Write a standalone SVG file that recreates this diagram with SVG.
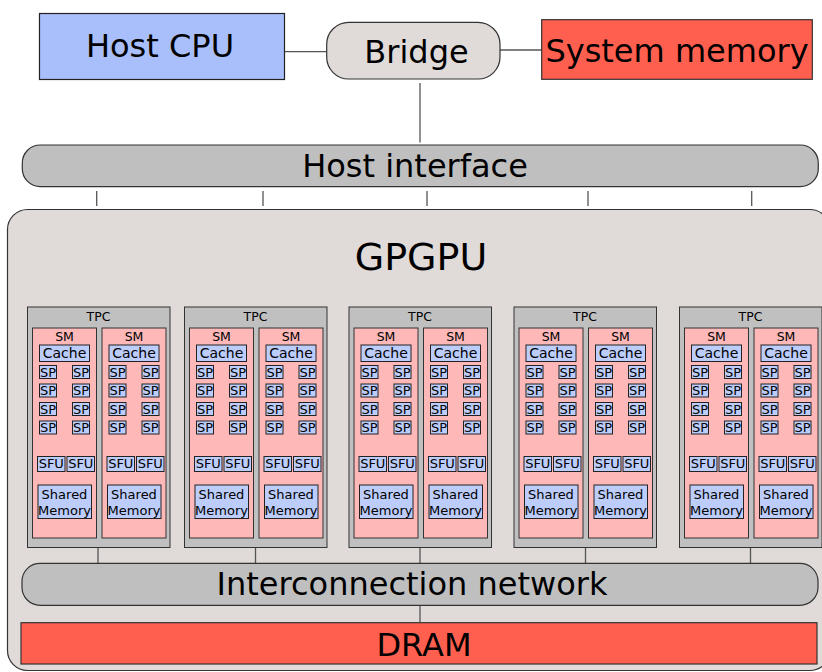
<svg xmlns="http://www.w3.org/2000/svg" width="822" height="672" viewBox="0 0 822 672">
<style>
text{font-family:"DejaVu Sans","Liberation Sans",sans-serif;text-anchor:middle;fill:#000}
.big{font-size:32px}
.gp{font-size:38px}
.sm{fill:#ffb8b8;stroke:#333;stroke-width:1}
.tpc{fill:#c0c0c0;stroke:#333;stroke-width:1}
.b{fill:#bccdfb;stroke:#222;stroke-width:1}
.s12{font-size:12.5px}
.s14{font-size:14px}
.s13{font-size:13px}
.ln{stroke:#555;stroke-width:1.3;fill:none}
</style>
<g id="gpgpu">
<rect x="7.5" y="209.5" width="822.5" height="461" rx="20" fill="#e0dbd9" stroke="#333" stroke-width="1.2"/>
<text class="gp" x="421" y="270">GPGPU</text>
</g>
<g id="connectors">
<line class="ln" x1="284.5" y1="51.7" x2="326.7" y2="51.7"/>
<line class="ln" x1="500" y1="50" x2="541.7" y2="50"/>
<line class="ln" x1="420" y1="83" x2="420" y2="142.5"/>
<line class="ln" x1="96.7" y1="191" x2="96.7" y2="206"/>
<line class="ln" x1="263" y1="191" x2="263" y2="206"/>
<line class="ln" x1="427" y1="191" x2="427" y2="206"/>
<line class="ln" x1="588" y1="191" x2="588" y2="206"/>
<line class="ln" x1="751.7" y1="191" x2="751.7" y2="206"/>
<line class="ln" x1="98" y1="548" x2="98" y2="563.3"/>
<line class="ln" x1="255.5" y1="548" x2="255.5" y2="563.3"/>
<line class="ln" x1="420" y1="548" x2="420" y2="563.3"/>
<line class="ln" x1="585.5" y1="548" x2="585.5" y2="563.3"/>
<line class="ln" x1="750.5" y1="548" x2="750.5" y2="563.3"/>
<line class="ln" x1="420" y1="605.3" x2="420" y2="622.7"/>
</g>
<g id="host-cpu">
<rect x="39.5" y="13.5" width="245" height="66" fill="#a9bffc" stroke="#222" stroke-width="1.2"/>
<text class="big" x="160" y="57">Host CPU</text>
</g>
<g id="bridge">
<rect x="326.7" y="22.3" width="173.3" height="56.7" rx="22" fill="#e0dbd9" stroke="#333" stroke-width="1.2"/>
<text class="big" x="416.5" y="62.5">Bridge</text>
</g>
<g id="system-memory">
<rect x="541.7" y="19.7" width="270.6" height="59.6" fill="#ff5f4f" stroke="#333" stroke-width="1.2"/>
<text class="big" x="677" y="61.5">System memory</text>
</g>
<g id="host-interface">
<rect x="22.3" y="145" width="796" height="41.7" rx="18" fill="#bfbfbf" stroke="#333" stroke-width="1.2"/>
<text class="big" x="415" y="177">Host interface</text>
</g>
<g id="interconnect">
<rect x="22" y="563.3" width="796" height="42" rx="18" fill="#bfbfbf" stroke="#333" stroke-width="1.2"/>
<text class="big" x="412" y="595">Interconnection network</text>
</g>
<g id="dram">
<rect x="21" y="622.7" width="796" height="41.3" fill="#ff5f4f" stroke="#333" stroke-width="1.2"/>
<text class="big" x="424" y="656">DRAM</text>
</g>

<g id="tpc1" transform="translate(27.5,307)">
<rect class="tpc" width="142.5" height="240.5"/>
<text class="s12" x="71" y="14">TPC</text>
<g id="tpc1-sm1" transform="translate(5,21)">
<rect class="sm" width="64" height="210"/><text class="s12" x="32" y="12.7">SM</text>
<rect class="b" x="7" y="17" width="50" height="16.5"/><text class="s14" x="32" y="30.3">Cache</text>
<rect class="b" x="7" y="37.5" width="17" height="13"/><rect class="b" x="40" y="37.5" width="17" height="13"/>
<rect class="b" x="7" y="56" width="17" height="13"/><rect class="b" x="40" y="56" width="17" height="13"/>
<rect class="b" x="7" y="74.5" width="17" height="13"/><rect class="b" x="40" y="74.5" width="17" height="13"/>
<rect class="b" x="7" y="93" width="17" height="13"/><rect class="b" x="40" y="93" width="17" height="13"/>
<text class="s13" x="15.5" y="48.5">SP</text><text class="s13" x="48.5" y="48.5">SP</text>
<text class="s13" x="15.5" y="67">SP</text><text class="s13" x="48.5" y="67">SP</text>
<text class="s13" x="15.5" y="85.5">SP</text><text class="s13" x="48.5" y="85.5">SP</text>
<text class="s13" x="15.5" y="104">SP</text><text class="s13" x="48.5" y="104">SP</text>
<rect class="b" x="5" y="128.5" width="27.5" height="15"/><rect class="b" x="34.5" y="128.5" width="27.5" height="15"/>
<text class="s13" x="18.75" y="140.3">SFU</text><text class="s13" x="48.25" y="140.3">SFU</text>
<rect class="b" x="5.5" y="157" width="53.5" height="33.5"/>
<text class="s13" x="32" y="170.5">Shared</text><text class="s13" x="32" y="186.5">Memory</text>
</g>
<g id="tpc1-sm2" transform="translate(74.5,21)">
<rect class="sm" width="64" height="210"/><text class="s12" x="32" y="12.7">SM</text>
<rect class="b" x="7" y="17" width="50" height="16.5"/><text class="s14" x="32" y="30.3">Cache</text>
<rect class="b" x="7" y="37.5" width="17" height="13"/><rect class="b" x="40" y="37.5" width="17" height="13"/>
<rect class="b" x="7" y="56" width="17" height="13"/><rect class="b" x="40" y="56" width="17" height="13"/>
<rect class="b" x="7" y="74.5" width="17" height="13"/><rect class="b" x="40" y="74.5" width="17" height="13"/>
<rect class="b" x="7" y="93" width="17" height="13"/><rect class="b" x="40" y="93" width="17" height="13"/>
<text class="s13" x="15.5" y="48.5">SP</text><text class="s13" x="48.5" y="48.5">SP</text>
<text class="s13" x="15.5" y="67">SP</text><text class="s13" x="48.5" y="67">SP</text>
<text class="s13" x="15.5" y="85.5">SP</text><text class="s13" x="48.5" y="85.5">SP</text>
<text class="s13" x="15.5" y="104">SP</text><text class="s13" x="48.5" y="104">SP</text>
<rect class="b" x="5" y="128.5" width="27.5" height="15"/><rect class="b" x="34.5" y="128.5" width="27.5" height="15"/>
<text class="s13" x="18.75" y="140.3">SFU</text><text class="s13" x="48.25" y="140.3">SFU</text>
<rect class="b" x="5.5" y="157" width="53.5" height="33.5"/>
<text class="s13" x="32" y="170.5">Shared</text><text class="s13" x="32" y="186.5">Memory</text>
</g>
</g>

<g id="tpc2" transform="translate(184.5,307)">
<rect class="tpc" width="142.5" height="240.5"/>
<text class="s12" x="71" y="14">TPC</text>
<g id="tpc2-sm1" transform="translate(5,21)">
<rect class="sm" width="64" height="210"/><text class="s12" x="32" y="12.7">SM</text>
<rect class="b" x="7" y="17" width="50" height="16.5"/><text class="s14" x="32" y="30.3">Cache</text>
<rect class="b" x="7" y="37.5" width="17" height="13"/><rect class="b" x="40" y="37.5" width="17" height="13"/>
<rect class="b" x="7" y="56" width="17" height="13"/><rect class="b" x="40" y="56" width="17" height="13"/>
<rect class="b" x="7" y="74.5" width="17" height="13"/><rect class="b" x="40" y="74.5" width="17" height="13"/>
<rect class="b" x="7" y="93" width="17" height="13"/><rect class="b" x="40" y="93" width="17" height="13"/>
<text class="s13" x="15.5" y="48.5">SP</text><text class="s13" x="48.5" y="48.5">SP</text>
<text class="s13" x="15.5" y="67">SP</text><text class="s13" x="48.5" y="67">SP</text>
<text class="s13" x="15.5" y="85.5">SP</text><text class="s13" x="48.5" y="85.5">SP</text>
<text class="s13" x="15.5" y="104">SP</text><text class="s13" x="48.5" y="104">SP</text>
<rect class="b" x="5" y="128.5" width="27.5" height="15"/><rect class="b" x="34.5" y="128.5" width="27.5" height="15"/>
<text class="s13" x="18.75" y="140.3">SFU</text><text class="s13" x="48.25" y="140.3">SFU</text>
<rect class="b" x="5.5" y="157" width="53.5" height="33.5"/>
<text class="s13" x="32" y="170.5">Shared</text><text class="s13" x="32" y="186.5">Memory</text>
</g>
<g id="tpc2-sm2" transform="translate(74.5,21)">
<rect class="sm" width="64" height="210"/><text class="s12" x="32" y="12.7">SM</text>
<rect class="b" x="7" y="17" width="50" height="16.5"/><text class="s14" x="32" y="30.3">Cache</text>
<rect class="b" x="7" y="37.5" width="17" height="13"/><rect class="b" x="40" y="37.5" width="17" height="13"/>
<rect class="b" x="7" y="56" width="17" height="13"/><rect class="b" x="40" y="56" width="17" height="13"/>
<rect class="b" x="7" y="74.5" width="17" height="13"/><rect class="b" x="40" y="74.5" width="17" height="13"/>
<rect class="b" x="7" y="93" width="17" height="13"/><rect class="b" x="40" y="93" width="17" height="13"/>
<text class="s13" x="15.5" y="48.5">SP</text><text class="s13" x="48.5" y="48.5">SP</text>
<text class="s13" x="15.5" y="67">SP</text><text class="s13" x="48.5" y="67">SP</text>
<text class="s13" x="15.5" y="85.5">SP</text><text class="s13" x="48.5" y="85.5">SP</text>
<text class="s13" x="15.5" y="104">SP</text><text class="s13" x="48.5" y="104">SP</text>
<rect class="b" x="5" y="128.5" width="27.5" height="15"/><rect class="b" x="34.5" y="128.5" width="27.5" height="15"/>
<text class="s13" x="18.75" y="140.3">SFU</text><text class="s13" x="48.25" y="140.3">SFU</text>
<rect class="b" x="5.5" y="157" width="53.5" height="33.5"/>
<text class="s13" x="32" y="170.5">Shared</text><text class="s13" x="32" y="186.5">Memory</text>
</g>
</g>

<g id="tpc3" transform="translate(349,307)">
<rect class="tpc" width="142.5" height="240.5"/>
<text class="s12" x="71" y="14">TPC</text>
<g id="tpc3-sm1" transform="translate(5,21)">
<rect class="sm" width="64" height="210"/><text class="s12" x="32" y="12.7">SM</text>
<rect class="b" x="7" y="17" width="50" height="16.5"/><text class="s14" x="32" y="30.3">Cache</text>
<rect class="b" x="7" y="37.5" width="17" height="13"/><rect class="b" x="40" y="37.5" width="17" height="13"/>
<rect class="b" x="7" y="56" width="17" height="13"/><rect class="b" x="40" y="56" width="17" height="13"/>
<rect class="b" x="7" y="74.5" width="17" height="13"/><rect class="b" x="40" y="74.5" width="17" height="13"/>
<rect class="b" x="7" y="93" width="17" height="13"/><rect class="b" x="40" y="93" width="17" height="13"/>
<text class="s13" x="15.5" y="48.5">SP</text><text class="s13" x="48.5" y="48.5">SP</text>
<text class="s13" x="15.5" y="67">SP</text><text class="s13" x="48.5" y="67">SP</text>
<text class="s13" x="15.5" y="85.5">SP</text><text class="s13" x="48.5" y="85.5">SP</text>
<text class="s13" x="15.5" y="104">SP</text><text class="s13" x="48.5" y="104">SP</text>
<rect class="b" x="5" y="128.5" width="27.5" height="15"/><rect class="b" x="34.5" y="128.5" width="27.5" height="15"/>
<text class="s13" x="18.75" y="140.3">SFU</text><text class="s13" x="48.25" y="140.3">SFU</text>
<rect class="b" x="5.5" y="157" width="53.5" height="33.5"/>
<text class="s13" x="32" y="170.5">Shared</text><text class="s13" x="32" y="186.5">Memory</text>
</g>
<g id="tpc3-sm2" transform="translate(74.5,21)">
<rect class="sm" width="64" height="210"/><text class="s12" x="32" y="12.7">SM</text>
<rect class="b" x="7" y="17" width="50" height="16.5"/><text class="s14" x="32" y="30.3">Cache</text>
<rect class="b" x="7" y="37.5" width="17" height="13"/><rect class="b" x="40" y="37.5" width="17" height="13"/>
<rect class="b" x="7" y="56" width="17" height="13"/><rect class="b" x="40" y="56" width="17" height="13"/>
<rect class="b" x="7" y="74.5" width="17" height="13"/><rect class="b" x="40" y="74.5" width="17" height="13"/>
<rect class="b" x="7" y="93" width="17" height="13"/><rect class="b" x="40" y="93" width="17" height="13"/>
<text class="s13" x="15.5" y="48.5">SP</text><text class="s13" x="48.5" y="48.5">SP</text>
<text class="s13" x="15.5" y="67">SP</text><text class="s13" x="48.5" y="67">SP</text>
<text class="s13" x="15.5" y="85.5">SP</text><text class="s13" x="48.5" y="85.5">SP</text>
<text class="s13" x="15.5" y="104">SP</text><text class="s13" x="48.5" y="104">SP</text>
<rect class="b" x="5" y="128.5" width="27.5" height="15"/><rect class="b" x="34.5" y="128.5" width="27.5" height="15"/>
<text class="s13" x="18.75" y="140.3">SFU</text><text class="s13" x="48.25" y="140.3">SFU</text>
<rect class="b" x="5.5" y="157" width="53.5" height="33.5"/>
<text class="s13" x="32" y="170.5">Shared</text><text class="s13" x="32" y="186.5">Memory</text>
</g>
</g>

<g id="tpc4" transform="translate(514,307)">
<rect class="tpc" width="142.5" height="240.5"/>
<text class="s12" x="71" y="14">TPC</text>
<g id="tpc4-sm1" transform="translate(5,21)">
<rect class="sm" width="64" height="210"/><text class="s12" x="32" y="12.7">SM</text>
<rect class="b" x="7" y="17" width="50" height="16.5"/><text class="s14" x="32" y="30.3">Cache</text>
<rect class="b" x="7" y="37.5" width="17" height="13"/><rect class="b" x="40" y="37.5" width="17" height="13"/>
<rect class="b" x="7" y="56" width="17" height="13"/><rect class="b" x="40" y="56" width="17" height="13"/>
<rect class="b" x="7" y="74.5" width="17" height="13"/><rect class="b" x="40" y="74.5" width="17" height="13"/>
<rect class="b" x="7" y="93" width="17" height="13"/><rect class="b" x="40" y="93" width="17" height="13"/>
<text class="s13" x="15.5" y="48.5">SP</text><text class="s13" x="48.5" y="48.5">SP</text>
<text class="s13" x="15.5" y="67">SP</text><text class="s13" x="48.5" y="67">SP</text>
<text class="s13" x="15.5" y="85.5">SP</text><text class="s13" x="48.5" y="85.5">SP</text>
<text class="s13" x="15.5" y="104">SP</text><text class="s13" x="48.5" y="104">SP</text>
<rect class="b" x="5" y="128.5" width="27.5" height="15"/><rect class="b" x="34.5" y="128.5" width="27.5" height="15"/>
<text class="s13" x="18.75" y="140.3">SFU</text><text class="s13" x="48.25" y="140.3">SFU</text>
<rect class="b" x="5.5" y="157" width="53.5" height="33.5"/>
<text class="s13" x="32" y="170.5">Shared</text><text class="s13" x="32" y="186.5">Memory</text>
</g>
<g id="tpc4-sm2" transform="translate(74.5,21)">
<rect class="sm" width="64" height="210"/><text class="s12" x="32" y="12.7">SM</text>
<rect class="b" x="7" y="17" width="50" height="16.5"/><text class="s14" x="32" y="30.3">Cache</text>
<rect class="b" x="7" y="37.5" width="17" height="13"/><rect class="b" x="40" y="37.5" width="17" height="13"/>
<rect class="b" x="7" y="56" width="17" height="13"/><rect class="b" x="40" y="56" width="17" height="13"/>
<rect class="b" x="7" y="74.5" width="17" height="13"/><rect class="b" x="40" y="74.5" width="17" height="13"/>
<rect class="b" x="7" y="93" width="17" height="13"/><rect class="b" x="40" y="93" width="17" height="13"/>
<text class="s13" x="15.5" y="48.5">SP</text><text class="s13" x="48.5" y="48.5">SP</text>
<text class="s13" x="15.5" y="67">SP</text><text class="s13" x="48.5" y="67">SP</text>
<text class="s13" x="15.5" y="85.5">SP</text><text class="s13" x="48.5" y="85.5">SP</text>
<text class="s13" x="15.5" y="104">SP</text><text class="s13" x="48.5" y="104">SP</text>
<rect class="b" x="5" y="128.5" width="27.5" height="15"/><rect class="b" x="34.5" y="128.5" width="27.5" height="15"/>
<text class="s13" x="18.75" y="140.3">SFU</text><text class="s13" x="48.25" y="140.3">SFU</text>
<rect class="b" x="5.5" y="157" width="53.5" height="33.5"/>
<text class="s13" x="32" y="170.5">Shared</text><text class="s13" x="32" y="186.5">Memory</text>
</g>
</g>

<g id="tpc5" transform="translate(679.5,307)">
<rect class="tpc" width="142.5" height="240.5"/>
<text class="s12" x="71" y="14">TPC</text>
<g id="tpc5-sm1" transform="translate(5,21)">
<rect class="sm" width="64" height="210"/><text class="s12" x="32" y="12.7">SM</text>
<rect class="b" x="7" y="17" width="50" height="16.5"/><text class="s14" x="32" y="30.3">Cache</text>
<rect class="b" x="7" y="37.5" width="17" height="13"/><rect class="b" x="40" y="37.5" width="17" height="13"/>
<rect class="b" x="7" y="56" width="17" height="13"/><rect class="b" x="40" y="56" width="17" height="13"/>
<rect class="b" x="7" y="74.5" width="17" height="13"/><rect class="b" x="40" y="74.5" width="17" height="13"/>
<rect class="b" x="7" y="93" width="17" height="13"/><rect class="b" x="40" y="93" width="17" height="13"/>
<text class="s13" x="15.5" y="48.5">SP</text><text class="s13" x="48.5" y="48.5">SP</text>
<text class="s13" x="15.5" y="67">SP</text><text class="s13" x="48.5" y="67">SP</text>
<text class="s13" x="15.5" y="85.5">SP</text><text class="s13" x="48.5" y="85.5">SP</text>
<text class="s13" x="15.5" y="104">SP</text><text class="s13" x="48.5" y="104">SP</text>
<rect class="b" x="5" y="128.5" width="27.5" height="15"/><rect class="b" x="34.5" y="128.5" width="27.5" height="15"/>
<text class="s13" x="18.75" y="140.3">SFU</text><text class="s13" x="48.25" y="140.3">SFU</text>
<rect class="b" x="5.5" y="157" width="53.5" height="33.5"/>
<text class="s13" x="32" y="170.5">Shared</text><text class="s13" x="32" y="186.5">Memory</text>
</g>
<g id="tpc5-sm2" transform="translate(74.5,21)">
<rect class="sm" width="64" height="210"/><text class="s12" x="32" y="12.7">SM</text>
<rect class="b" x="7" y="17" width="50" height="16.5"/><text class="s14" x="32" y="30.3">Cache</text>
<rect class="b" x="7" y="37.5" width="17" height="13"/><rect class="b" x="40" y="37.5" width="17" height="13"/>
<rect class="b" x="7" y="56" width="17" height="13"/><rect class="b" x="40" y="56" width="17" height="13"/>
<rect class="b" x="7" y="74.5" width="17" height="13"/><rect class="b" x="40" y="74.5" width="17" height="13"/>
<rect class="b" x="7" y="93" width="17" height="13"/><rect class="b" x="40" y="93" width="17" height="13"/>
<text class="s13" x="15.5" y="48.5">SP</text><text class="s13" x="48.5" y="48.5">SP</text>
<text class="s13" x="15.5" y="67">SP</text><text class="s13" x="48.5" y="67">SP</text>
<text class="s13" x="15.5" y="85.5">SP</text><text class="s13" x="48.5" y="85.5">SP</text>
<text class="s13" x="15.5" y="104">SP</text><text class="s13" x="48.5" y="104">SP</text>
<rect class="b" x="5" y="128.5" width="27.5" height="15"/><rect class="b" x="34.5" y="128.5" width="27.5" height="15"/>
<text class="s13" x="18.75" y="140.3">SFU</text><text class="s13" x="48.25" y="140.3">SFU</text>
<rect class="b" x="5.5" y="157" width="53.5" height="33.5"/>
<text class="s13" x="32" y="170.5">Shared</text><text class="s13" x="32" y="186.5">Memory</text>
</g>
</g>
</svg>
